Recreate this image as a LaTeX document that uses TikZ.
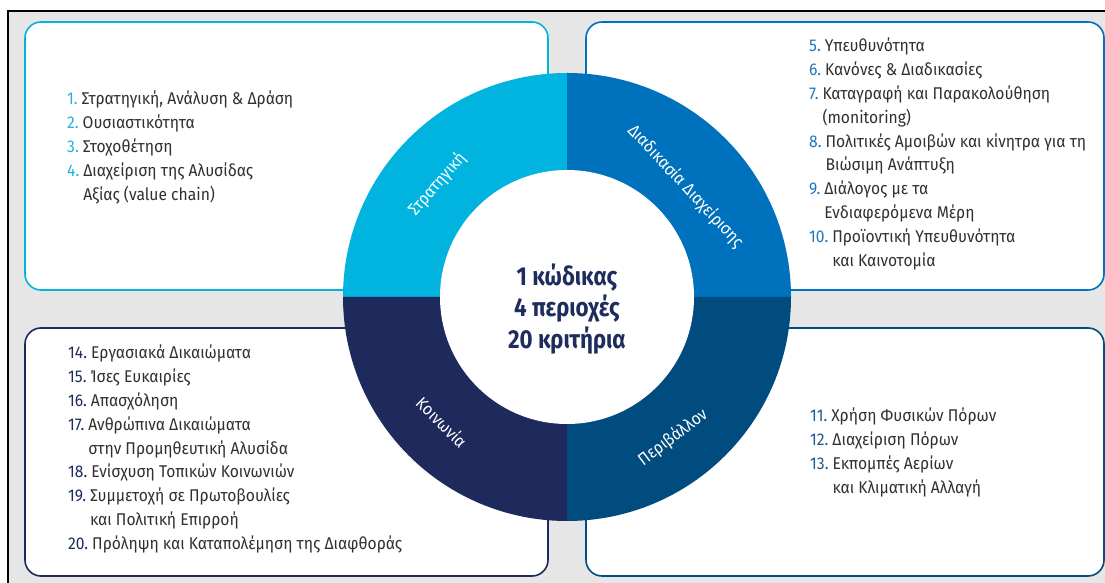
\documentclass[tikz,border=0pt]{standalone}
\usepackage{fontspec}
\setmainfont[FakeStretch=0.92]{Fira Sans}
\newfontfamily\tallyfont[FakeStretch=0.86]{Fira Sans}
\usepackage{xcolor}
\usetikzlibrary{positioning, calc}

\definecolor{stratcol}{RGB}{0,180,223}
\definecolor{proccol}{RGB}{0,113,188}
\definecolor{envcol}{RGB}{0,76,126}
\definecolor{soccol}{RGB}{29,42,91}
\definecolor{stratnum}{RGB}{35,178,224}
\definecolor{procnum}{RGB}{31,118,190}
\definecolor{envnum}{RGB}{31,90,140}
\definecolor{socnum}{RGB}{30,44,94}
\definecolor{pagegray}{RGB}{230,230,230}
\definecolor{bodytext}{RGB}{48,48,48}

\newcommand{\nr}[2]{\textcolor{#1}{#2}\hspace{4pt}}
\newcommand{\gap}[1]{\phantom{#1}\hspace{4pt}}

\begin{document}
\begin{tikzpicture}[x=1pt, y=1pt,
  panel/.style={draw=#1, line width=1.6pt, fill=white, rounded corners=16pt},
  items/.style={anchor=base west, inner sep=0pt, text=bodytext, font=\fontsize{17}{23.8}\selectfont},
  ringlabel/.style={text=white, inner sep=0pt, font=\fontsize{17}{20}\selectfont},
]
\useasboundingbox (0,0) rectangle (1105,583);
% frame
\fill[pagegray] (8,0) rectangle (1105,572);
\draw[line width=1.5pt] (8,0) -- (8,572) -- (1105,572);

% panels
\draw[panel=stratcol] (25,293) rectangle (548,561);
\draw[panel=proccol] (586,293) rectangle (1104,561);
\draw[panel=soccol] (25,7) rectangle (548,255);
\draw[panel=envcol] (586,7) rectangle (1104,255);

% ring
\coordinate (hub) at (567,286);
\foreach \a/\col in {90/stratcol, 0/proccol, -90/envcol, 180/soccol}
  \fill[\col] (hub) -- ++(\a:224) arc[start angle=\a, delta angle=90, radius=224] -- cycle;
\node[circle, fill=white, minimum size=254pt, inner sep=0pt] (core) at (hub) {};

\node[ringlabel, rotate=49] (strat) at ($(hub)+(139:172)$) {Στρατηγική};
\node[ringlabel, rotate=-47] (proc) at ($(hub)+(43:162)$) {Διαδικασία Διαχείρισης};
\node[ringlabel, rotate=37] (env) at ($(hub)+(-53:176)$) {Περιβάλλον};
\node[ringlabel, rotate=-45] (soc) at ($(hub)+(225:177)$) {Κοινωνία};

\node[align=center, text=socnum, font=\tallyfont\bfseries\fontsize{26}{31.5}\selectfont] (tally) at (567,274)
  {1 κώδικας\\4 περιοχές\\20 κριτήρια};

% lists
\node[items] (stratlist) at (67,478) {\begin{tabular}[t]{@{}l@{}}
\nr{stratnum}{1.}Στρατηγική, Ανάλυση \& Δράση\\
\nr{stratnum}{2.}Ουσιαστικότητα\\
\nr{stratnum}{3.}Στοχοθέτηση\\
\nr{stratnum}{4.}Διαχείριση της Αλυσίδας\\
\gap{4.}Αξίας (value chain)
\end{tabular}};

\node[items] (proclist) at (809,531) {\begin{tabular}[t]{@{}l@{}}
\nr{procnum}{5.}Υπευθυνότητα\\
\nr{procnum}{6.}Κανόνες \& Διαδικασίες\\
\nr{procnum}{7.}Καταγραφή και Παρακολούθηση\\
\gap{7.}(monitoring)\\
\nr{procnum}{8.}Πολιτικές Αμοιβών και κίνητρα για τη\\
\gap{8.}Βιώσιμη Ανάπτυξη\\
\nr{procnum}{9.}Διάλογος με τα\\
\gap{9.}Ενδιαφερόμενα Μέρη\\
\nr{procnum}{10.}Προϊοντική Υπευθυνότητα\\
\gap{10.}και Καινοτομία
\end{tabular}};

\node[items] (envlist) at (810,161) {\begin{tabular}[t]{@{}l@{}}
\nr{envnum}{11.}Χρήση Φυσικών Πόρων\\
\nr{envnum}{12.}Διαχείριση Πόρων\\
\nr{envnum}{13.}Εκπομπές Αερίων\\
\gap{13.}και Κλιματική Αλλαγή
\end{tabular}};

\node[items] (soclist) at (68,224) {\begin{tabular}[t]{@{}l@{}}
\nr{socnum}{14.}Εργασιακά Δικαιώματα\\
\nr{socnum}{15.}Ίσες Ευκαιρίες\\
\nr{socnum}{16.}Απασχόληση\\
\nr{socnum}{17.}Ανθρώπινα Δικαιώματα\\
\gap{17.}στην Προμηθευτική Αλυσίδα\\
\nr{socnum}{18.}Ενίσχυση Τοπικών Κοινωνιών\\
\nr{socnum}{19.}Συμμετοχή σε Πρωτοβουλίες\\
\gap{19.}και Πολιτική Επιρροή\\
\nr{socnum}{20.}Πρόληψη και Καταπολέμηση της Διαφθοράς
\end{tabular}};
\end{tikzpicture}
\end{document}
